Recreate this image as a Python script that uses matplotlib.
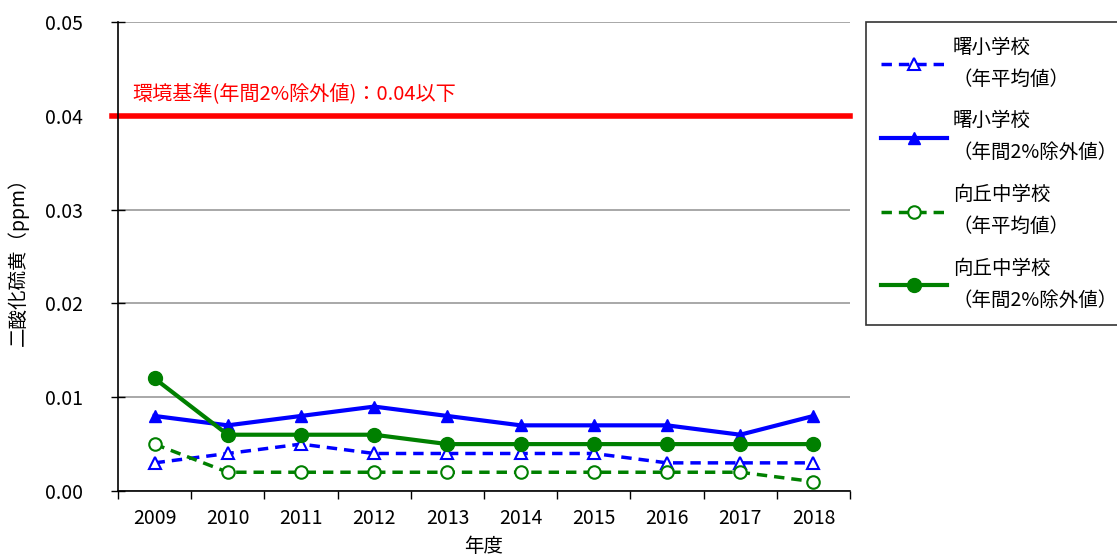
import numpy as np
import matplotlib
matplotlib.use('Agg')
import matplotlib.pyplot as plt

plt.rcParams['font.family'] = ['Noto Sans CJK JP', 'DejaVu Sans']

# data
years = ['2009', '2010', '2011', '2012', '2013', '2014', '2015', '2016', '2017', '2018']
akebono_avg = [0.003, 0.004, 0.005, 0.004, 0.004, 0.004, 0.004, 0.003, 0.003, 0.003]
akebono_2pct = [0.008, 0.007, 0.008, 0.009, 0.008, 0.007, 0.007, 0.007, 0.006, 0.008]
mukougaoka_avg = [0.005, 0.002, 0.002, 0.002, 0.002, 0.002, 0.002, 0.002, 0.002, 0.001]
mukougaoka_2pct = [0.012, 0.006, 0.006, 0.006, 0.005, 0.005, 0.005, 0.005, 0.005, 0.005]
standard = 0.04
yticks = [0.00, 0.01, 0.02, 0.03, 0.04, 0.05]

fs = 14

fig = plt.figure(figsize=(11.17, 5.56), dpi=100)
ax = fig.add_axes([0.1056, 0.1169, 0.6554, 0.8435])

x = np.arange(len(years))

ax.plot(x, akebono_avg, color='blue', ls=(0, (3, 2)), lw=2.5, marker='^', ms=8,
        mfc='white', mec='blue', mew=1.5, label='曙小学校\n（年平均値）')
ax.plot(x, akebono_2pct, color='blue', lw=3, marker='^', ms=9,
        label='曙小学校\n（年間2%除外値）')
ax.plot(x, mukougaoka_avg, color='green', ls=(0, (3, 2)), lw=2.5, marker='o', ms=9,
        mfc='white', mec='green', mew=1.5, label='向丘中学校\n（年平均値）')
ax.plot(x, mukougaoka_2pct, color='green', lw=3, marker='o', ms=10,
        label='向丘中学校\n（年間2%除外値）')

# environmental standard line
ax.axhline(standard, xmin=-0.008, xmax=1, color='red', lw=4, clip_on=False, zorder=1)
ax.text(-0.3, standard + 0.0011, '環境基準(年間2%除外値)：0.04以下', color='red',
        fontsize=fs + 0.5, va='bottom', ha='left')

ax.set_xlim(-0.5, len(years) - 0.5)
ax.set_ylim(0, 0.05)
ax.set_yticks(yticks)
ax.set_yticklabels(['%.2f' % v for v in yticks], fontsize=fs)
ax.set_xticks(x)
ax.set_xticklabels(years, fontsize=fs)
ax.set_xticks(np.arange(len(years) + 1) - 0.5, minor=True)
ax.tick_params(axis='x', which='major', length=0, pad=12)
ax.tick_params(axis='x', which='minor', length=6, direction='out', width=1)
ax.tick_params(axis='y', length=10, direction='inout', width=1, pad=20)

ax.grid(axis='y', color='#999999', lw=1.2)
ax.set_axisbelow(True)
for s in ['top', 'right']:
    ax.spines[s].set_visible(False)
ax.spines['left'].set_linewidth(1.2)
ax.spines['bottom'].set_linewidth(1.2)

ax.set_ylabel('二酸化硫黄（ppm）', fontsize=fs)
ax.yaxis.set_label_coords(-0.122, 0.5)
ax.set_xlabel('年度', fontsize=fs, labelpad=5)

leg = ax.legend(loc='upper left', bbox_to_anchor=(1.022, 1.0), fontsize=fs,
                frameon=True, fancybox=False, edgecolor='black', handlelength=3.4,
                labelspacing=1.05, borderpad=0.75, handletextpad=0.3,
                borderaxespad=0)
leg.get_frame().set_linewidth(1.2)
for t in leg.get_texts():
    t.set_linespacing(1.7)

fig.savefig('out.png', dpi=100)
